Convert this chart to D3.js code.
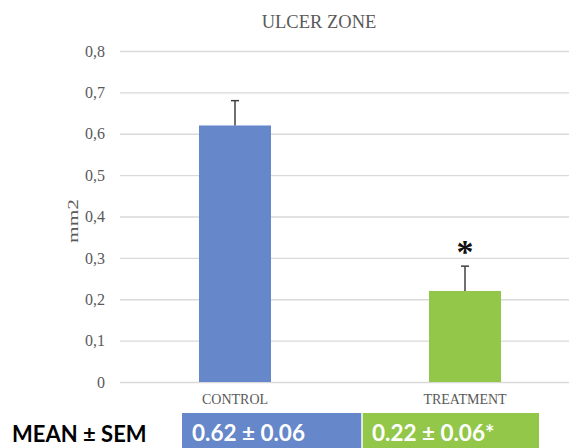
<!DOCTYPE html>
<html><head><meta charset="utf-8">
<script src="https://cdn.jsdelivr.net/npm/d3@7"></script>
<style>body{margin:0;background:#fff}svg{display:block}
.serif{font-family:"Liberation Serif","Times New Roman",Times,"DejaVu Serif",serif}</style>
</head><body>
<svg id="c" width="569" height="448"></svg>
<script>
const categories = ["CONTROL", "TREATMENT"];
const means = [0.62, 0.22];
const sems = [0.06, 0.06];
const yTicks = [0, 0.1, 0.2, 0.3, 0.4, 0.5, 0.6, 0.7, 0.8];
const tableLabels = ["0.62 ± 0.06", "0.22 ± 0.06*"];
const significant = [false, true];
const barColors = ["#6687ca", "#92c749"];

const svg = d3.select("#c");
const sans = "Lato, 'Noto Sans', sans-serif";

const y = d3.scaleLinear().domain([0, 0.8]).range([382, 51]);
const x = d3.scalePoint().domain(categories).range([120, 580]).padding(0.5);
const barW = x.step() * 0.313;

// gridlines + tick labels via axis
const yAxis = d3.axisLeft(y).tickValues(yTicks).tickSize(-449)
  .tickFormat(d => d3.format(".1f")(d).replace(".", ",").replace(/^0,0$/, "0"));
const gy = svg.append("g").attr("transform", "translate(120,0)").call(yAxis)
  .attr("font-family", null).attr("font-size", null);
gy.select(".domain").remove();
gy.selectAll(".tick line").attr("stroke", "#d9d9d9").attr("stroke-width", 1.3);
gy.selectAll(".tick text").attr("x", -15).attr("class", "serif")
  .attr("font-size", 16).attr("fill", "#595959");

// title
svg.append("text").attr("class", "serif").attr("x", 319).attr("y", 28).attr("text-anchor", "middle")
  .attr("font-size", 18.5).attr("fill", "#595959")
  .text("ULCER ZONE");

// y label
svg.append("text").attr("class", "serif").attr("transform", "translate(78,221) rotate(-90)")
  .attr("text-anchor", "middle").attr("font-size", 15)
  .attr("fill", "#595959").attr("textLength", 44).attr("lengthAdjust", "spacingAndGlyphs")
  .text("mm2");

// bars
const data = categories.map((c, i) => ({c, m: means[i], s: sems[i], col: barColors[i], sig: significant[i]}));
svg.selectAll("rect.bar").data(data).join("rect").attr("class", "bar")
  .attr("x", d => x(d.c) - barW / 2).attr("width", barW)
  .attr("y", d => y(d.m)).attr("height", d => y(0) - y(d.m))
  .attr("fill", d => d.col);

// error bars
const eb = svg.selectAll("g.eb").data(data).join("g").attr("class", "eb")
  .attr("stroke", "#404040").attr("stroke-width", 1.5);
eb.append("line").attr("x1", d => x(d.c)).attr("x2", d => x(d.c))
  .attr("y1", d => y(d.m)).attr("y2", d => y(d.m + d.s));
eb.append("line").attr("x1", d => x(d.c) - 4).attr("x2", d => x(d.c) + 4)
  .attr("y1", d => y(d.m + d.s)).attr("y2", d => y(d.m + d.s));

// asterisk
svg.selectAll("text.sig").data(data.filter(d => d.sig)).join("text").attr("class", "sig serif")
  .attr("x", d => x(d.c)).attr("y", d => y(d.m + d.s) - 3)
  .attr("text-anchor", "middle").attr("font-size", 34).attr("font-weight", "bold")
  .attr("fill", "#111").text("*");

// category labels
svg.selectAll("text.cat").data(categories).join("text").attr("class", "cat serif")
  .attr("x", d => x(d)).attr("y", 404).attr("text-anchor", "middle")
  .attr("font-size", 14).attr("fill", "#595959").text(d => d);

// bottom table
svg.append("text").attr("x", 12).attr("y", 442).attr("font-family", sans)
  .attr("font-weight", "bold").attr("font-size", 22).attr("fill", "#000").text("MEAN ± SEM");
const cellX = [182, 362], cellW = [180, 177];
data.forEach((d, i) => {
  svg.append("rect").attr("x", cellX[i]).attr("y", 413).attr("width", cellW[i]).attr("height", 40)
    .attr("fill", d.col);
  svg.append("text").attr("x", cellX[i] + 10).attr("y", 441).attr("font-family", sans)
    .attr("font-weight", "bold").attr("font-size", 22.5).attr("fill", "#fff").text(tableLabels[i]);
});
svg.append("line").attr("x1", 362).attr("x2", 362).attr("y1", 413).attr("y2", 448)
  .attr("stroke", "#fff").attr("stroke-width", 1.5);
</script>
</body></html>
